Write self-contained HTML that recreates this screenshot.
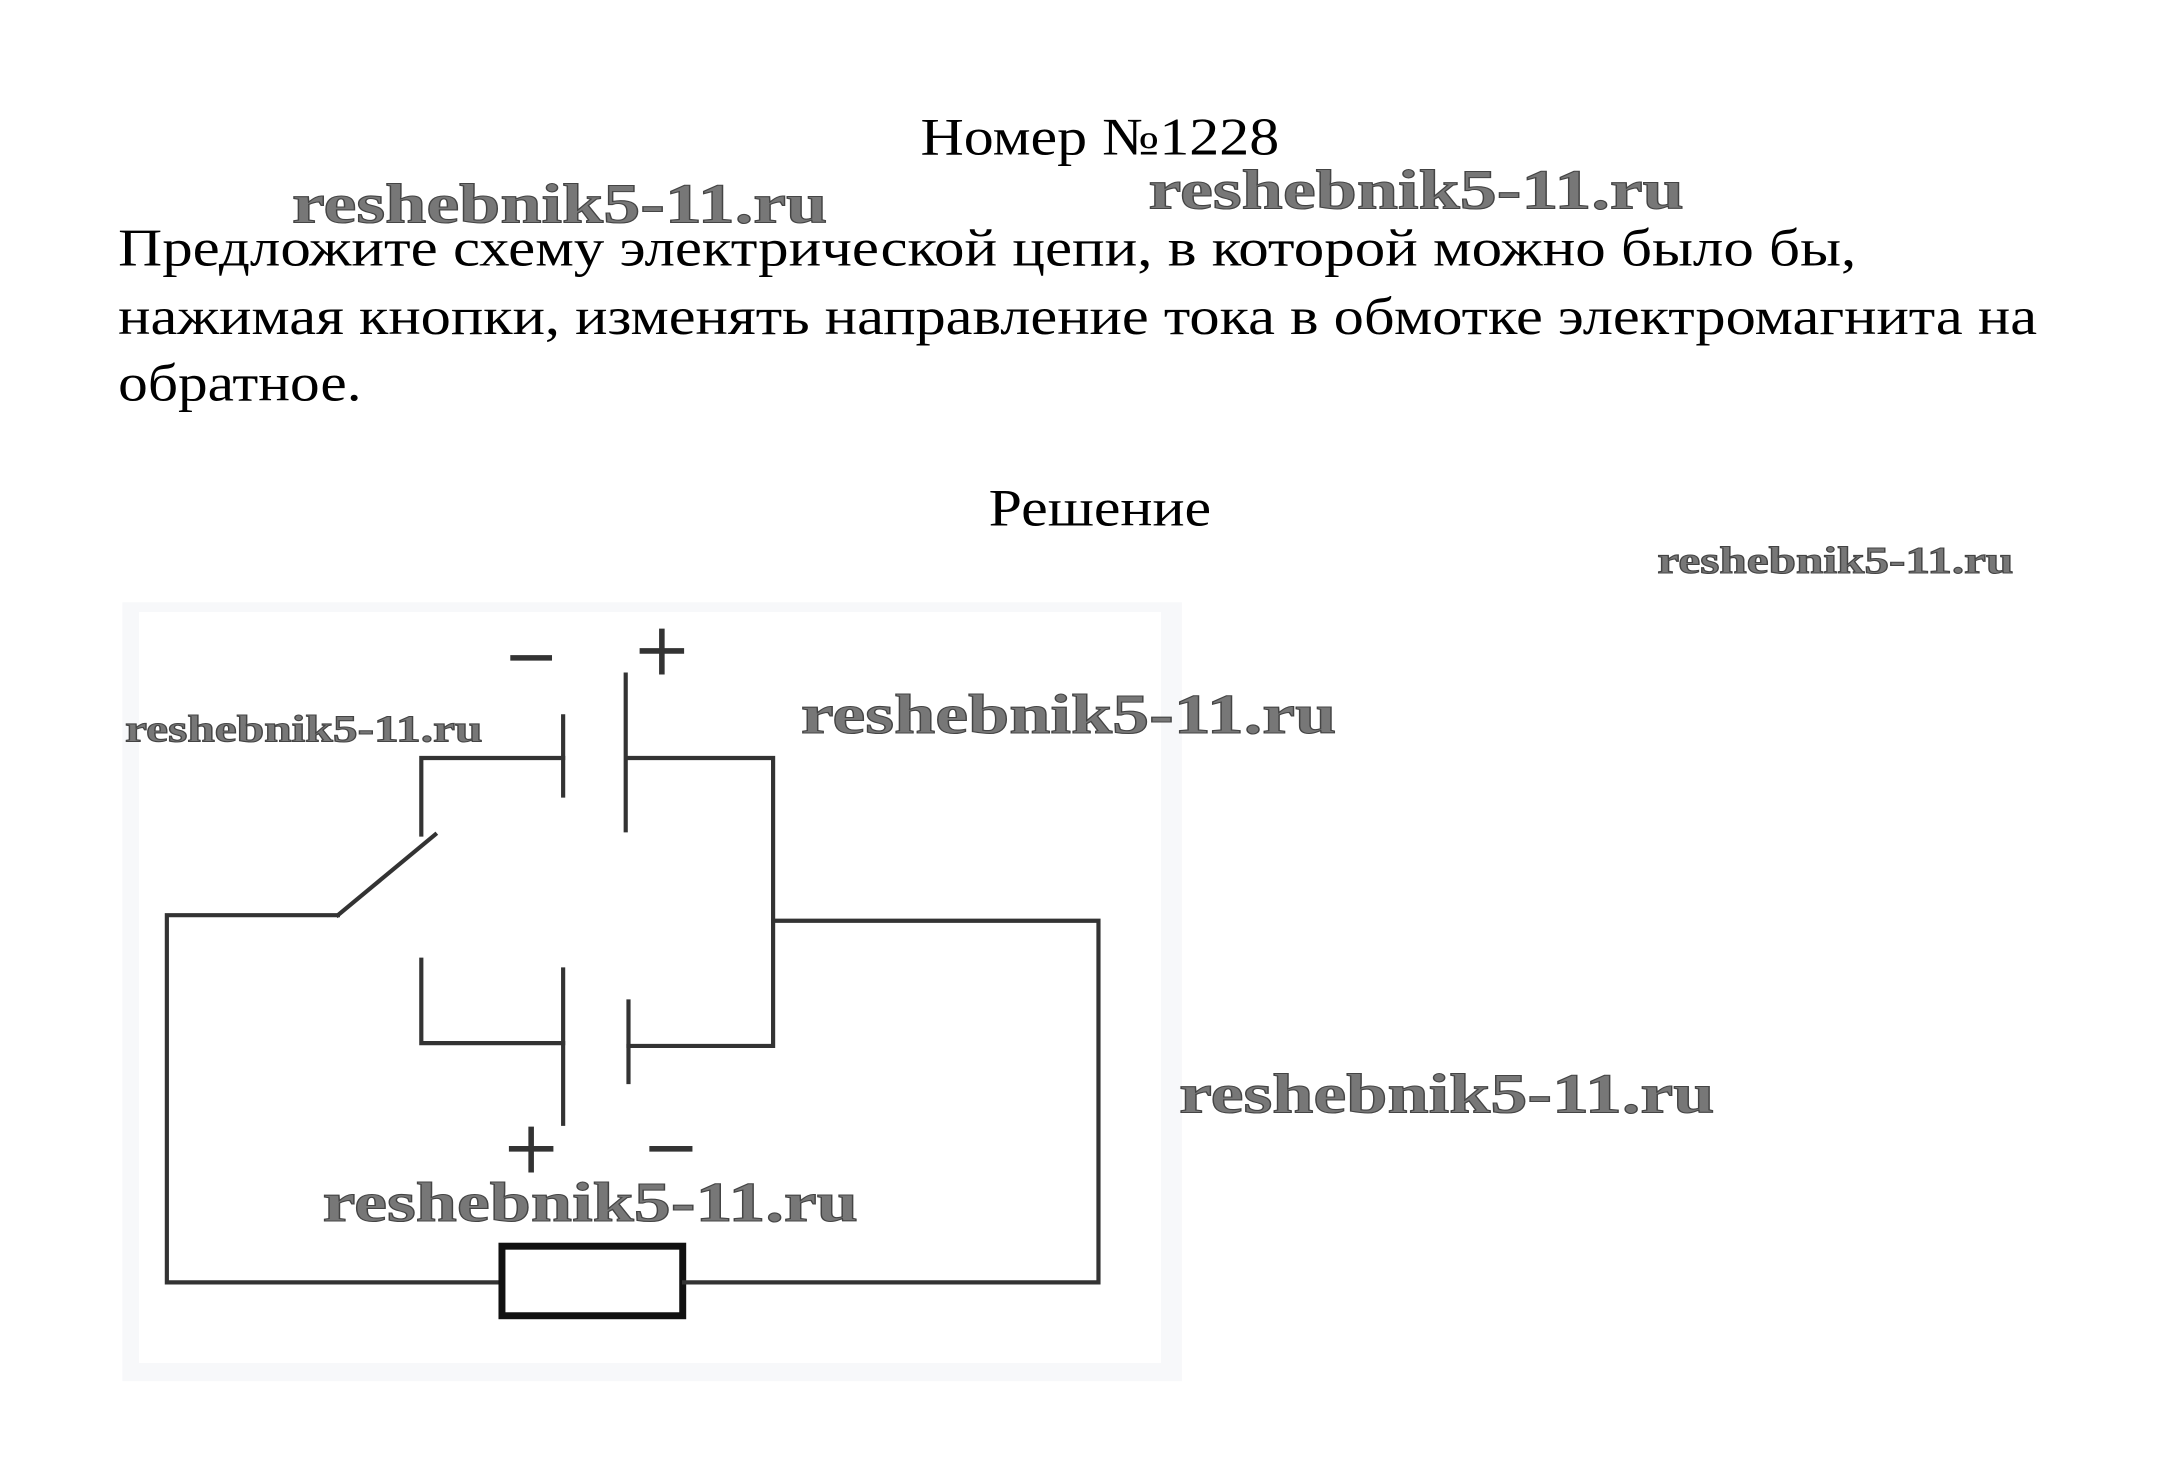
<!DOCTYPE html>
<html><head><meta charset="utf-8"><style>
html,body{margin:0;padding:0;background:#fff;}
svg{display:block;}
</style></head><body>
<svg width="2158" height="1459" viewBox="0 0 1552 1049" preserveAspectRatio="none" xmlns="http://www.w3.org/2000/svg">
<rect x="0" y="0" width="1552" height="1049" fill="#fff"/>
<g font-family="Liberation Serif, serif" fill="#000" font-size="38">
<text x="662" y="111" textLength="258" lengthAdjust="spacingAndGlyphs">Номер №1228</text>
<text x="85" y="191" textLength="1250" lengthAdjust="spacingAndGlyphs">Предложите схему электрической цепи, в которой можно было бы,</text>
<text x="85" y="240" textLength="1380" lengthAdjust="spacingAndGlyphs">нажимая кнопки, изменять направление тока в обмотке электромагнита на</text>
<text x="85" y="288" textLength="175" lengthAdjust="spacingAndGlyphs">обратное.</text>
<text x="711" y="378" textLength="160" lengthAdjust="spacingAndGlyphs">Решение</text>
</g>
<!-- circuit frame -->
<rect x="88" y="433" width="762" height="560" fill="#f7f8fa"/>
<rect x="100" y="440" width="735" height="540" fill="#fff"/>
<g stroke="#333" stroke-width="3" fill="none" stroke-linecap="square">
<polyline points="405,545 303,545 303,600"/>
<line x1="313" y1="600" x2="243" y2="658"/>
<polyline points="243,658 120,658 120,922 360,922"/>
<rect x="361" y="896" width="130" height="50" stroke-width="5" stroke="#111"/>
<polyline points="492,922 790,922 790,662 556,662"/>
<polyline points="452,545 556,545 556,752 452,752"/>
<polyline points="303,690 303,750 405,750"/>
<line x1="405" y1="515" x2="405" y2="572"/>
<line x1="450" y1="485" x2="450" y2="597"/>
<line x1="405" y1="697" x2="405" y2="808"/>
<line x1="452" y1="720" x2="452" y2="778"/>
<line x1="369" y1="473" x2="395" y2="473" stroke-width="4"/>
<line x1="462" y1="468" x2="490" y2="468" stroke-width="4"/>
<line x1="476" y1="454" x2="476" y2="483" stroke-width="4"/>
<line x1="368" y1="826" x2="396" y2="826" stroke-width="4"/>
<line x1="382" y1="812" x2="382" y2="841" stroke-width="4"/>
<line x1="469" y1="826" x2="496" y2="826" stroke-width="4"/>
</g>
<g font-family="Liberation Serif, serif" font-weight="bold" fill="#777" stroke="#444" stroke-width="0.8">
<text x="210" y="160" font-size="40" textLength="385" lengthAdjust="spacingAndGlyphs">reshebnik5-11.ru</text>
<text x="826" y="150" font-size="40" textLength="385" lengthAdjust="spacingAndGlyphs">reshebnik5-11.ru</text>
<text x="1192" y="412" font-size="27" textLength="256" lengthAdjust="spacingAndGlyphs">reshebnik5-11.ru</text>
<text x="90" y="533" font-size="27" textLength="257" lengthAdjust="spacingAndGlyphs">reshebnik5-11.ru</text>
<text x="576" y="527" font-size="40" textLength="385" lengthAdjust="spacingAndGlyphs">reshebnik5-11.ru</text>
<text x="848" y="800" font-size="40" textLength="385" lengthAdjust="spacingAndGlyphs">reshebnik5-11.ru</text>
<text x="232" y="878" font-size="40" textLength="385" lengthAdjust="spacingAndGlyphs">reshebnik5-11.ru</text>
</g>
</svg>
</body></html>
